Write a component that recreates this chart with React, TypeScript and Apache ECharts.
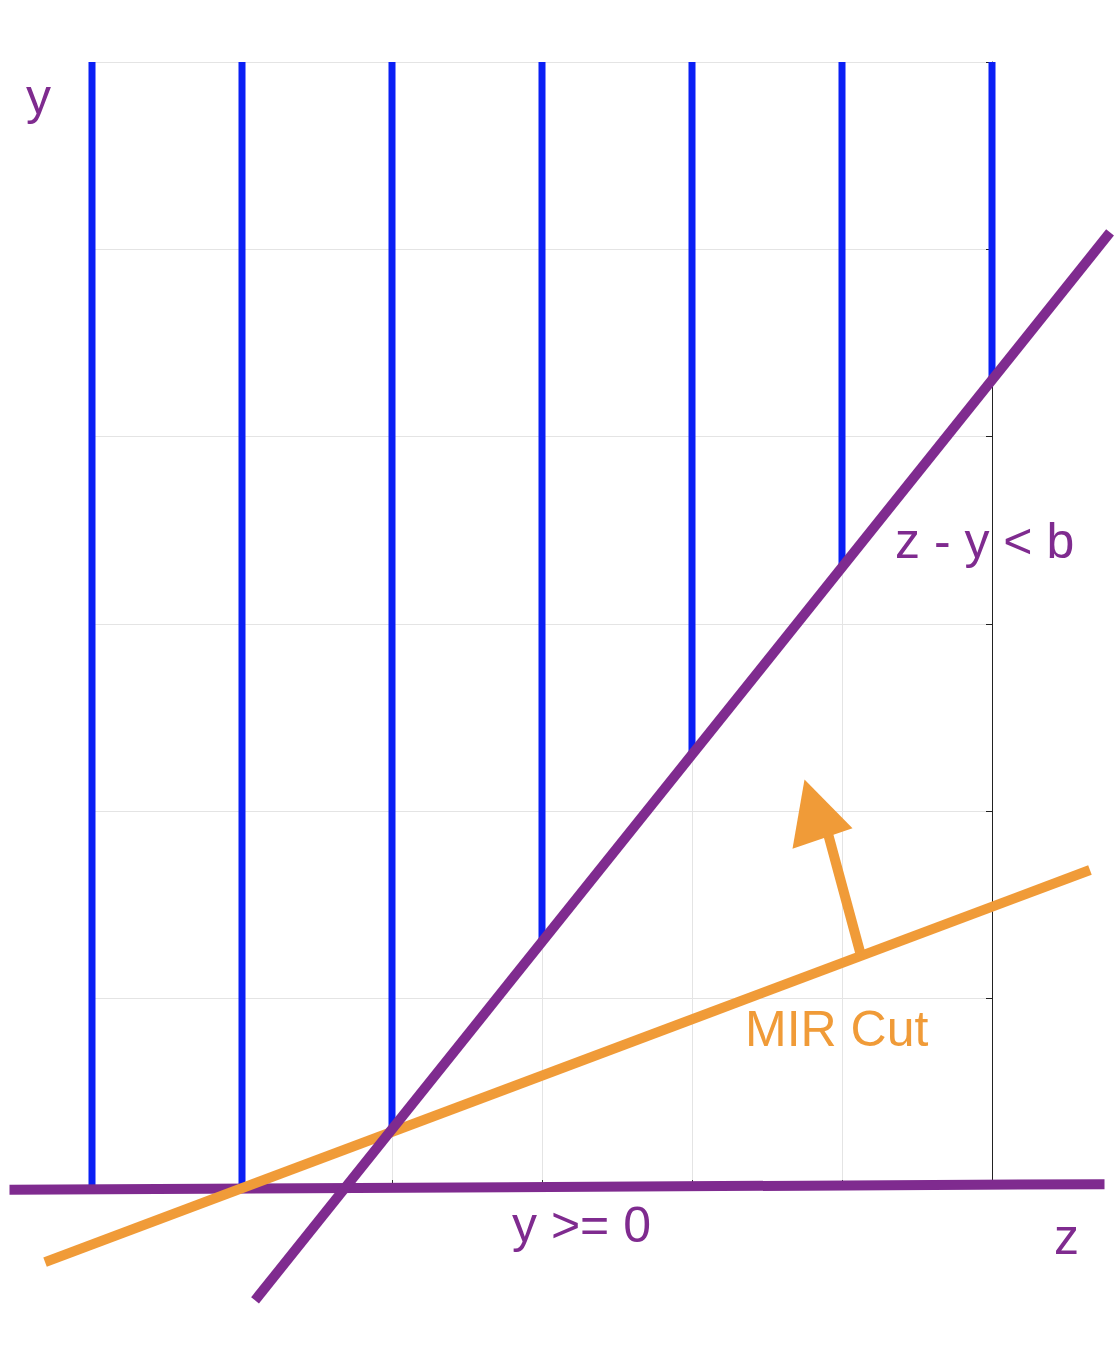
import React, { useEffect, useRef } from "react";
import * as echarts from "echarts";

const bValue = 1.69;
const bluePositions = [0, 1, 2, 3, 4, 5, 6];
const yTop = 6;
const purpleDiagonal: [number, number][] = [[1.087, -0.61], [6.787, 5.09]];
const purpleBase: [number, number][] = [[-0.55, -0.02], [6.75, 0.01]];
const orangeCut: [number, number][] = [[-0.313, -0.406], [6.653, 1.687]];
const arrowShaft: [number, number][] = [[5.12, 1.25], [4.9, 1.9]];
const arrowHead: [number, number][] = [[4.67, 1.80], [5.07, 1.91], [4.75, 2.17]];

const PURPLE = "#7f2b8f";
const ORANGE = "#f09b38";
const BLUE = "#0a1ff5";

export default function App() {
  const ref = useRef<HTMLDivElement>(null);
  useEffect(() => {
    const chart = echarts.init(ref.current!, null, { renderer: "svg" });
    const segSeries = (pts: [number, number][], color: string, width: number, z: number) => ({
      type: "custom",
      data: pts,
      clip: false,
      z,
      renderItem: (params: any, api: any) => {
        if (params.dataIndex !== 0) return null;
        const a = api.coord(pts[0]);
        const b = api.coord(pts[1]);
        return {
          type: "line",
          shape: { x1: a[0], y1: a[1], x2: b[0], y2: b[1] },
          style: { stroke: color, lineWidth: width, lineCap: "butt" },
        };
      },
    });
    const blueSeries = bluePositions.map((x) =>
      segSeries([[x, Math.max(0, x - bValue)], [x, yTop]], BLUE, 7, 2)
    );
    chart.setOption({
      animation: false,
      grid: { left: 92, right: 128, top: 62, bottom: 176 },
      xAxis: {
        type: "value", min: 0, max: 6, interval: 1,
        axisLabel: { show: false },
        axisLine: { show: false },
        axisTick: { show: true, inside: true, length: 6, lineStyle: { color: "#333" } },
        splitLine: { show: true, lineStyle: { color: "#e4e4e4", width: 1 } },
      },
      yAxis: {
        type: "value", min: 0, max: 6, interval: 1, position: "right",
        axisLabel: { show: false },
        axisLine: { show: true, onZero: false, lineStyle: { color: "#222", width: 1 } },
        axisTick: { show: true, inside: true, length: 6, lineStyle: { color: "#222" } },
        splitLine: { show: true, lineStyle: { color: "#e4e4e4", width: 1 } },
      },
      series: [
        ...blueSeries,
        segSeries(purpleBase, PURPLE, 10, 3),
        segSeries(orangeCut, ORANGE, 10, 4),
        segSeries(purpleDiagonal, PURPLE, 10, 5),
        segSeries(arrowShaft, ORANGE, 10, 4),
        {
          type: "custom",
          data: arrowHead,
          clip: false,
          z: 4,
          renderItem: (params: any, api: any) => {
            if (params.dataIndex !== 0) return null;
            return {
              type: "polygon",
              shape: { points: arrowHead.map((p) => api.coord(p)) },
              style: { fill: ORANGE },
            };
          },
        },
      ],
      graphic: [
        { type: "text", left: 26, top: 72, style: { text: "y", fill: PURPLE, font: "50px 'Liberation Sans', sans-serif" } },
        { type: "text", left: 1054, top: 1212, style: { text: "z", fill: PURPLE, font: "50px 'Liberation Sans', sans-serif" } },
        { type: "text", left: 512, top: 1200, style: { text: "y >= 0", fill: PURPLE, font: "50px 'Liberation Sans', sans-serif" } },
        { type: "text", left: 895, top: 516, style: { text: "z - y < b", fill: PURPLE, font: "50px 'Liberation Sans', sans-serif" } },
        { type: "text", left: 745, top: 1004, style: { text: "MIR Cut", fill: ORANGE, font: "50px 'Liberation Sans', sans-serif" } },
      ],
    });
    return () => chart.dispose();
  }, []);
  return <div ref={ref} style={{ position: "absolute", left: 0, top: 0, width: 1120, height: 1362, background: "#fff" }} />;
}
